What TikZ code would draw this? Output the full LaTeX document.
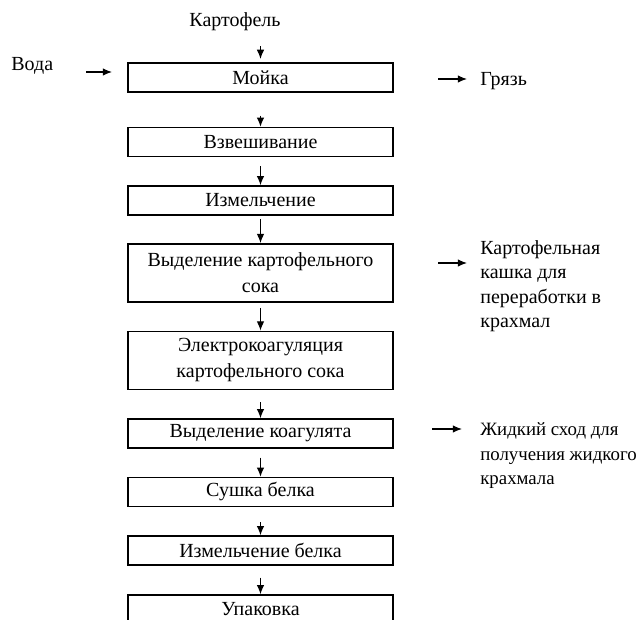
\documentclass[tikz,border=0pt]{standalone}
\usepackage{fontspec}
\setmainfont{Liberation Serif}
\usetikzlibrary{arrows.meta,positioning}
\tikzset{
  stage box/.style={draw=black, line width=0.9pt, minimum width=159pt,
    minimum height=17.4pt, inner sep=1pt, align=center,
    font=\fontsize{12}{15.6}\selectfont},
  tall box/.style={minimum height=35pt},
  flow/.style={-{Latex[length=5.5pt,width=4.5pt]},line width=0.7pt},
  side text/.style={inner sep=0pt,align=left,
    font=\fontsize{12}{14.7}\selectfont}
}
\newcommand{\stageBox}[4][]{%
  \node[stage box,#1] (#2) at (260.5,#3) {#4};%
}

\begin{document}
\begin{tikzpicture}[x=0.6pt,y=-0.6pt]
  \useasboundingbox (0,0) rectangle (637,620);
  \clip (0,0) rectangle (637,620);

  \stageBox{wash}{77.5}{Мойка}
  \stageBox{weigh}{142}{Взвешивание}
  \stageBox{grind}{200.5}{Измельчение}
  \stageBox[tall box]{juice}{273}{Выделение картофельного\\сока}
  \stageBox[tall box]{coag}{360.5}{Электрокоагуляция\\картофельного сока}
  \stageBox{sep}{433.5}{Выделение коагулята}
  \stageBox{dry}{492}{Сушка белка}
  \stageBox{mill}{550.5}{Измельчение белка}
  \stageBox{pack}{609.5}{Упаковка}

  \node[side text] (potato) at (235,22) {Картофель};
  \node[side text,anchor=west] (water) at (11,66) {Вода};
  \node[side text,anchor=west] (dirt) at (480,81) {Грязь};
  \node[side text,anchor=north west] (mash) at (480,240)
    {Картофельная\\кашка для\\переработки в\\крахмал};
  \node[side text,anchor=north west,font=\fontsize{11.3}{14.9}\selectfont]
    (liquid) at (480,422)
    {Жидкий сход для\\получения жидкого\\крахмала};

  % main line
  \draw[flow,shorten <=9pt,shorten >=2pt] (potato.south -| wash.north) -- (wash.north);
  \draw[flow,shorten <=13.8pt] (wash) -- (weigh);
  \draw[flow,shorten <=5.4pt] (weigh) -- (grind);
  \draw[flow,shorten <=2pt] (grind) -- (juice);
  \draw[flow,shorten <=3pt] (juice) -- (coag);
  \draw[flow,shorten <=7.2pt] (coag) -- (sep);
  \draw[flow,shorten <=5.4pt] (sep) -- (dry);
  \draw[flow,shorten <=9pt] (dry) -- (mill);
  \draw[flow,shorten <=7.2pt] (mill) -- (pack);

  % inputs and outputs
  \coordinate (water out) at (86,72);
  \coordinate (water in) at (112,72);
  \draw[flow] (water out) -- (water in);
  \coordinate (dirt out) at (438,79);
  \coordinate (dirt in) at (467,79);
  \draw[flow] (dirt out) -- (dirt in);
  \coordinate (mash out) at (438,263);
  \coordinate (mash in) at (467,263);
  \draw[flow] (mash out) -- (mash in);
  \coordinate (liquid out) at (432,429);
  \coordinate (liquid in) at (462,429);
  \draw[flow] (liquid out) -- (liquid in);
\end{tikzpicture}
\end{document}
